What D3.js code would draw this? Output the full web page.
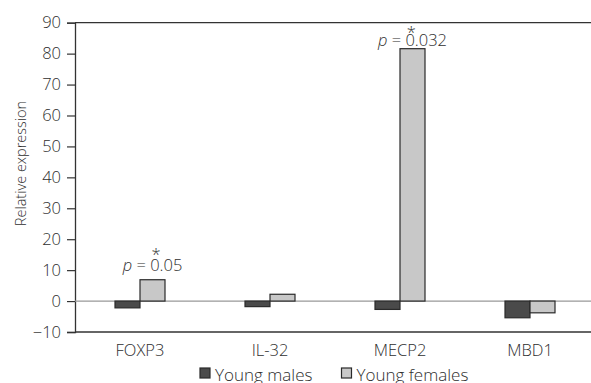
<!DOCTYPE html>
<html><head><meta charset="utf-8">
<script src="https://cdn.jsdelivr.net/npm/d3@7"></script>
<style>body{margin:0;background:#fff}svg{display:block}text{font-family:"Open Sans",sans-serif;fill:#2e2e2e;font-weight:300}</style>
</head><body>
<svg id="c" width="591" height="383"></svg>
<script>
const categories = ["FOXP3", "IL-32", "MECP2", "MBD1"];
const seriesNames = ["Young males", "Young females"];
const youngMales = [-2.2, -1.8, -2.7, -5.4];
const youngFemales = [6.9, 2.2, 81.6, -3.8];
const yTicks = [-10, 0, 10, 20, 30, 40, 50, 60, 70, 80, 90];
const annotations = [
  {cat: "FOXP3", p: "0.05"},
  {cat: "MECP2", p: "0.032"}
];
const colors = ["#4a4a4a", "#c8c8c8"];

(function () {
const svg = d3.select("#c");
const mLeft = 75, mRight = 595, mTop = 22.7, mBottom = 332;
const y = d3.scaleLinear().domain([-10, 90]).range([mBottom, mTop]);
const x = d3.scaleBand().domain(categories).range([mLeft, mRight]).paddingInner(0).paddingOuter(0);
const groupW = 50;
const xs = d3.scaleBand().domain(seriesNames).range([0, groupW]);
const FS = 16.5;

// y axis
const yAxis = d3.axisLeft(y).tickValues(yTicks).tickSize(8).tickPadding(6)
  .tickFormat(d => d < 0 ? "\u2212" + Math.abs(d) : d);
const ya = svg.append("g").attr("transform", `translate(${mLeft},0)`).call(yAxis);
ya.select(".domain").attr("stroke", "#333").attr("stroke-width", 1.3);
ya.selectAll(".tick line").attr("stroke", "#333").attr("stroke-width", 1.2);
ya.selectAll(".tick text").attr("font-size", FS).attr("fill", "#2e2e2e").attr("font-family", "Open Sans");

// top and bottom frame
svg.append("line").attr("x1", mLeft).attr("x2", 591).attr("y1", y(90)).attr("y2", y(90)).attr("stroke", "#333").attr("stroke-width", 1.3);
svg.append("line").attr("x1", mLeft).attr("x2", 591).attr("y1", y(-10)).attr("y2", y(-10)).attr("stroke", "#333").attr("stroke-width", 1.3);
// zero line
svg.append("line").attr("x1", mLeft).attr("x2", 591).attr("y1", y(0)).attr("y2", y(0)).attr("stroke", "#999").attr("stroke-width", 1.2);

// bars
const data = [youngMales, youngFemales];
data.forEach((vals, si) => {
  svg.append("g").selectAll("rect").data(vals).join("rect")
    .attr("x", (d, i) => x(categories[i]) + x.bandwidth() / 2 - groupW / 2 + xs(seriesNames[si]))
    .attr("width", xs.bandwidth())
    .attr("y", d => y(Math.max(0, d)))
    .attr("height", d => Math.abs(y(d) - y(0)))
    .attr("fill", colors[si])
    .attr("stroke", "#2a2a2a")
    .attr("stroke-width", 1.2);
});

// x labels
const xa = svg.append("g").attr("transform", `translate(0,${mBottom})`)
  .call(d3.axisBottom(x).tickSize(0).tickPadding(12));
xa.select(".domain").remove();
xa.selectAll(".tick text").attr("font-size", FS).attr("fill", "#2e2e2e").attr("font-family", "Open Sans").attr("dy", "0.71em");

// annotations (text gap above bar, asterisk rise above baseline)
const annStyle = [{gap: 8.5, rise: 23.5}, {gap: 3, rise: 20.5}];
annotations.forEach((a, k) => {
  const i = categories.indexOf(a.cat);
  const cx = x(a.cat) + x.bandwidth() / 2 + xs.bandwidth() / 2;
  const base = y(youngFemales[i]) - annStyle[k].gap;
  const t = svg.append("text").attr("x", cx).attr("y", base).attr("text-anchor", "middle").attr("font-size", FS);
  const t1 = t.append("tspan").attr("font-style", "italic").text("p");
  const t2 = t.append("tspan").text(" = ");
  t.append("tspan").text(a.p);
  const full = t.node().getComputedTextLength();
  const pre = t1.node().getComputedTextLength() + t2.node().getComputedTextLength();
  const zeroX = cx - full / 2 + pre;
  svg.append("text").attr("x", zeroX + 6).attr("y", base - annStyle[k].rise).attr("text-anchor", "middle")
    .attr("dy", "0.75em").attr("font-size", FS).attr("font-weight", 400).text("*");
});

// y title
svg.append("text").attr("transform", `translate(26,163.5) rotate(-90)`)
  .attr("text-anchor", "middle").attr("font-size", 14.5).text("Relative expression");

// legend
const lg = svg.append("g");
const legendX = [200, 341.5];
seriesNames.forEach((n, i) => {
  lg.append("rect").attr("x", legendX[i]).attr("y", 368).attr("width", 10).attr("height", 10)
    .attr("fill", colors[i]).attr("stroke", "#2a2a2a").attr("stroke-width", 1.2);
  lg.append("text").attr("x", legendX[i] + 15).attr("y", 380.5).attr("font-size", 17).text(n);
});
})();
</script>
</body></html>
